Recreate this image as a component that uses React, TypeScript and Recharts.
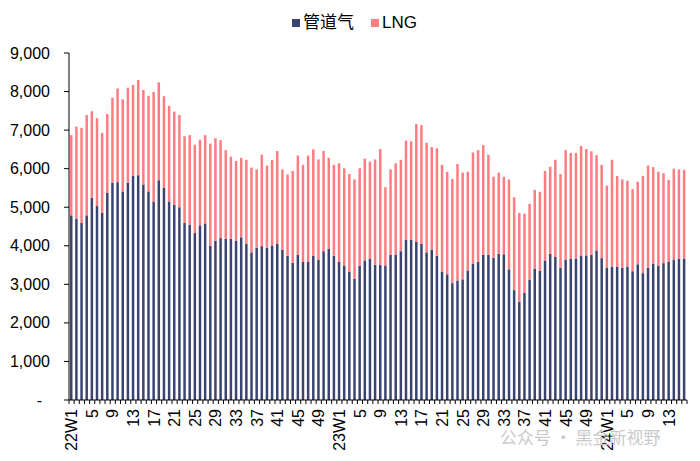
import React from 'react';
import { BarChart, Bar, XAxis, YAxis } from 'recharts';

const years = ['22', '23', '24'];
const weekCounts = [52, 52, 16];

const categories: string[] = years.flatMap((y, k) =>
  Array.from({ length: weekCounts[k] }, (_, i) => `${y}W${i + 1}`)
);

const pipeline2022 = [
  4790, 4700, 4590, 4790, 5240, 5030, 4850, 5370, 5630, 5650, 5410, 5630, 5810,
  5830, 5590, 5410, 5150, 5700, 5500, 5150, 5060, 5000, 4590, 4550, 4330, 4530,
  4580, 4000, 4130, 4200, 4180, 4180, 4130, 4220, 4050, 3830, 3950, 3990, 3950,
  4010, 4050, 3890, 3740, 3560, 3770, 3580, 3580, 3740, 3630, 3860, 3920, 3740,
];
const lng2022 = [
  2080, 2390, 2470, 2600, 2250, 2280, 2080, 2050, 2210, 2430, 2390, 2470, 2360,
  2470, 2450, 2480, 2840, 2540, 2380, 2480, 2420, 2390, 2250, 2320, 2290, 2220,
  2290, 2650, 2660, 2540, 2300, 2130, 2070, 2060, 2180, 2200, 2030, 2370, 2130,
  2220, 2410, 2090, 2110, 2380, 2570, 2520, 2760, 2760, 2610, 2600, 2360, 2360,
];
const pipeline2023 = [
  3590, 3490, 3320, 3150, 3480, 3620, 3670, 3510, 3500, 3490, 3770, 3770, 3860,
  4150, 4150, 4100, 4050, 3830, 3900, 3740, 3320, 3260, 3030, 3100, 3130, 3360,
  3540, 3590, 3770, 3770, 3690, 3790, 3780, 3390, 2850, 2550, 2780, 3120, 3400,
  3350, 3620, 3790, 3710, 3430, 3640, 3670, 3670, 3750, 3750, 3770, 3880, 3680,
];
const lng2023 = [
  2550, 2520, 2540, 2570, 2530, 2640, 2510, 2730, 3010, 2030, 2210, 2370, 2370,
  2580, 2560, 3060, 3080, 2840, 2660, 2790, 2780, 2660, 2700, 3020, 2770, 2560,
  2880, 2890, 2840, 2590, 2100, 2110, 2010, 2330, 2410, 2300, 2050, 1970, 2050,
  2050, 2320, 2260, 2520, 2430, 2840, 2740, 2740, 2840, 2760, 2680, 2470, 2420,
];
const pipeline2024 = [
  3430, 3460, 3460, 3430, 3460, 3340, 3520, 3290, 3430, 3530, 3490, 3550, 3580,
  3630, 3670, 3670,
];
const lng2024 = [
  2130, 2770, 2350, 2290, 2230, 2130, 2140, 2520, 2650, 2510, 2430, 2330, 2130,
  2370, 2310, 2300,
];

const pipelineValues = [...pipeline2022, ...pipeline2023, ...pipeline2024];
const lngValues = [...lng2022, ...lng2023, ...lng2024];

const yTicks = [0, 1000, 2000, 3000, 4000, 5000, 6000, 7000, 8000, 9000];

const data = categories.map((c, i) => ({
  name: c,
  pipeline: pipelineValues[i],
  lng: lngValues[i],
}));

const DARK = '#3B4470';
const PINK = '#FF7C80';
const FONT = '"Liberation Sans", Arial, "Noto Sans CJK SC", sans-serif';

const W = 700;
const H = 461;
const LEFT = 69;
const RIGHT = 13;
const HALF = (W - LEFT - RIGHT) / categories.length / 2;

const tickLabel = (cat: string) => {
  const [, w] = cat.split('W');
  return w === '1' ? cat : w;
};

const XTick = (props: any) => {
  const { x, y, payload, index } = props;
  const showLabel = index % 4 === 0;
  const isLast = index === categories.length - 1;
  return (
    <g>
      <line x1={x - HALF} x2={x - HALF} y1={y} y2={y + 4} stroke="#000" strokeWidth={1} />
      {isLast && <line x1={x + HALF} x2={x + HALF} y1={y} y2={y + 4} stroke="#000" strokeWidth={1} />}
      {showLabel && (
        <text
          transform={`translate(${x},${y + 9}) rotate(-90)`}
          textAnchor="end"
          dy="0.35em"
          fontSize={16}
          fontFamily={FONT}
          fill="#000"
        >
          {tickLabel(payload.value)}
        </text>
      )}
    </g>
  );
};

const YTick = (props: any) => {
  const { x, y, payload } = props;
  const v = payload.value as number;
  const label = v === 0 ? '-' : v.toLocaleString('en-US');
  return (
    <text
      x={v === 0 ? x - 8 : x}
      y={y}
      dy="0.35em"
      textAnchor="end"
      fontSize={16}
      fontFamily={FONT}
      fill="#000"
    >
      {label}
    </text>
  );
};

export default function App() {
  return (
    <div
      style={{
        position: 'absolute',
        left: 0,
        top: 0,
        width: W,
        height: H,
        background: '#fff',
        fontFamily: FONT,
      }}
    >
      <div
        style={{
          position: 'absolute',
          top: 13,
          left: 292,
          display: 'flex',
          alignItems: 'center',
          fontSize: 17,
          color: '#000',
          lineHeight: '20px',
          whiteSpace: 'nowrap',
        }}
      >
        <span style={{ display: 'inline-block', width: 8, height: 8, background: DARK, marginRight: 3 }} />
        <span>管道气</span>
        <span style={{ display: 'inline-block', width: 8, height: 8, background: PINK, marginLeft: 17, marginRight: 3 }} />
        <span>LNG</span>
      </div>
      <BarChart
        width={W}
        height={H}
        data={data}
        margin={{ top: 53, right: RIGHT, bottom: 0, left: 0 }}
        barSize={2.5}
      >
        <XAxis
          dataKey="name"
          interval={0}
          height={61}
          tickLine={false}
          tickSize={0}
          tickMargin={0}
          axisLine={{ stroke: '#000', strokeWidth: 1 }}
          tick={<XTick />}
        />
        <YAxis
          width={LEFT}
          domain={[0, 9000]}
          ticks={yTicks}
          interval={0}
          tickSize={5}
          tickMargin={14}
          tickLine={{ stroke: '#000', strokeWidth: 1 }}
          axisLine={{ stroke: '#000', strokeWidth: 1 }}
          tick={<YTick />}
        />
        <Bar dataKey="pipeline" stackId="a" fill={DARK} isAnimationActive={false} />
        <Bar dataKey="lng" stackId="a" fill={PINK} isAnimationActive={false} />
      </BarChart>
      <div
        style={{
          position: 'absolute',
          left: 500,
          top: 424,
          fontSize: 17,
          color: '#c9c9c9',
          whiteSpace: 'nowrap',
          fontFamily: '"Noto Sans CJK SC", sans-serif',
        }}
      >
        公众号 · 黑金新视野
      </div>
    </div>
  );
}
